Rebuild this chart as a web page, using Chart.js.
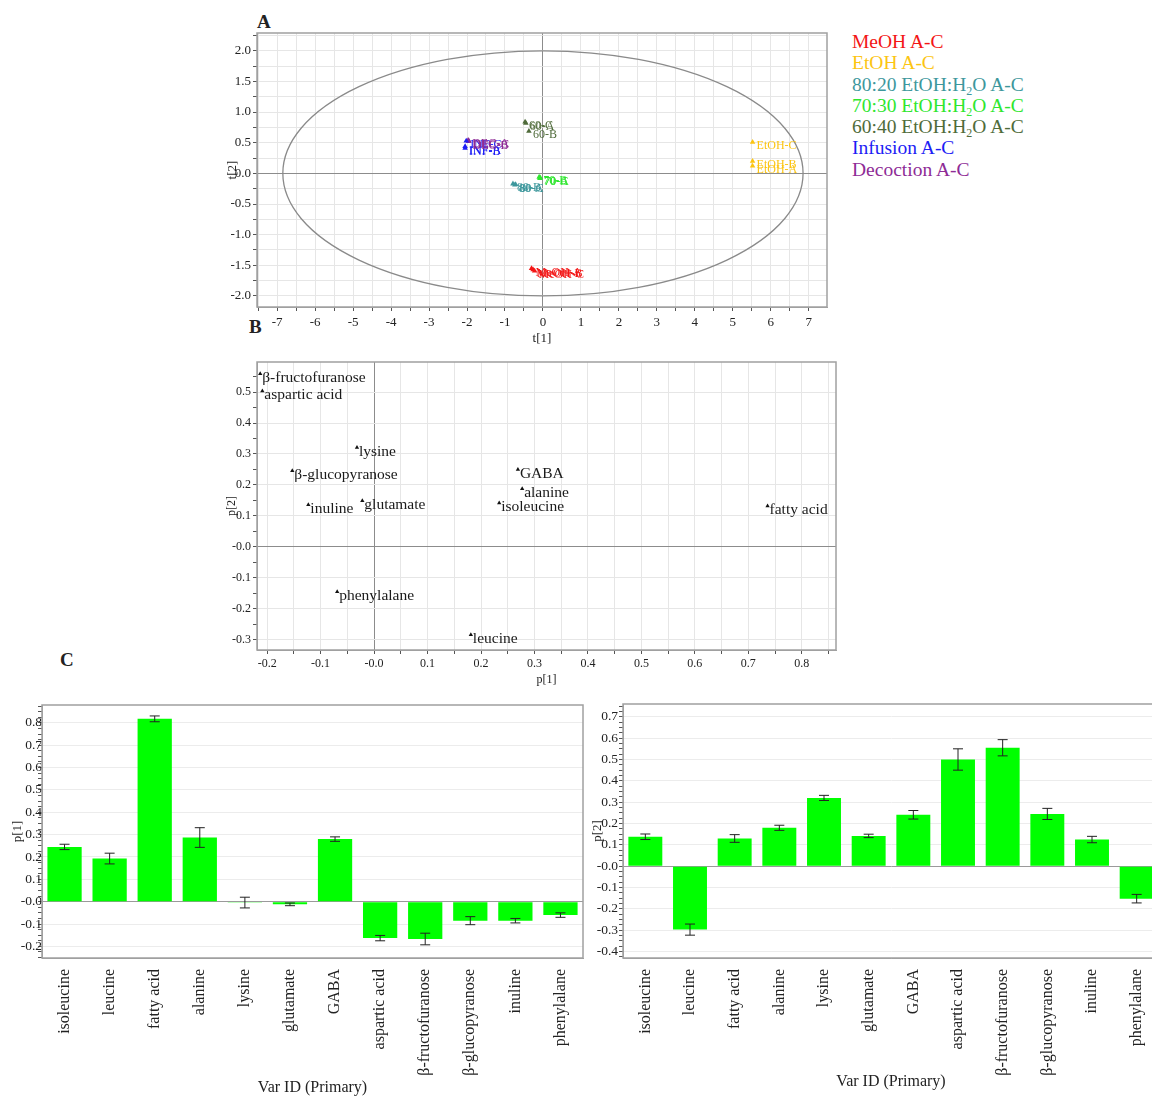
<!DOCTYPE html>
<html>
<head>
<meta charset="utf-8">
<script src="https://cdn.jsdelivr.net/npm/chart.js@4.4.1/dist/chart.umd.min.js"></script>
<style>
  html, body { margin: 0; padding: 0; background: #fff; overflow: hidden; width: 1152px; height: 1097px; }
  body { position: relative; font-family: 'Liberation Serif', 'Times New Roman', serif; color: #222; }
  canvas { position: absolute; }
  .tag { position: absolute; font-weight: bold; font-size: 19px; }
  #legend { position: absolute; left: 852px; top: 31px; font-size: 19.5px; line-height: 21.3px; }
  #legend sub { font-size: 12px; line-height: 0; vertical-align: -0.3em; }
</style>
</head>
<body>
<div class="tag" style="left:257px;top:11px">A</div>
<div class="tag" style="left:249px;top:316px">B</div>
<div class="tag" style="left:60px;top:649px">C</div>
<div id="legend"></div>

<canvas id="scores" width="626" height="330" style="left:216px;top:20px"></canvas>
<canvas id="loadings" width="636" height="340" style="left:216px;top:350px"></canvas>
<canvas id="bars1" width="600" height="407" style="left:0px;top:690px"></canvas>
<canvas id="bars2" width="600" height="407" style="left:580px;top:690px"></canvas>

<script>
// ---- A: score plot t[1] / t[2] ----
const groupNames = ['MeOH A-C', 'EtOH A-C', '80:20 EtOH:H<sub>2</sub>O A-C', '70:30 EtOH:H<sub>2</sub>O A-C',
  '60:40 EtOH:H<sub>2</sub>O A-C', 'Infusion A-C', 'Decoction A-C'];
const groupColors = ['#f31515', '#fcc512', '#3d979c', '#2ee62e', '#4f6b3a', '#1d1df5', '#8e2b96'];

const sampleIds = ['MeOH-A', 'MeOH-B', 'MeOH-C', 'EtOH-A', 'EtOH-B', 'EtOH-C',
  '80-A', '80-C', '80-B', '70-A', '70-C', '70-B', '60-A', '60-B', '60-C',
  'INF-C', 'INF-A', 'INF-B', 'DEC-B', 'DEC-A', 'DEC-C'];
const sampleGroup = [0, 0, 0, 1, 1, 1, 2, 2, 2, 3, 3, 3, 4, 4, 4, 5, 5, 5, 6, 6, 6];
const t1 = [-0.30, -0.26, -0.22, 5.52, 5.52, 5.52, -0.74, -0.72, -0.79, -0.08, -0.07, -0.10,
  -0.45, -0.37, -0.47, -2.02, -2.05, -2.05, -1.96, -1.97, -1.95];
const t2 = [-1.55, -1.57, -1.59, 0.12, 0.20, 0.51, -0.19, -0.18, -0.17, -0.08, -0.07, -0.06,
  0.82, 0.69, 0.84, 0.53, 0.44, 0.41, 0.52, 0.54, 0.53];
const ellipseRadii = [6.85, 2.0]; // Hotelling T2 ellipse, t[1] and t[2] units

// ---- B: loading plot p[1] / p[2] ----
const loadVars = ['β-fructofuranose', 'aspartic acid', 'lysine', 'β-glucopyranose', 'inuline', 'glutamate',
  'GABA', 'alanine', 'isoleucine', 'fatty acid', 'phenylalane', 'leucine'];
const loadP1 = [-0.213, -0.209, -0.032, -0.153, -0.123, -0.022, 0.269, 0.277, 0.234, 0.736, -0.069, 0.181];
const loadP2 = [0.559, 0.503, 0.321, 0.246, 0.136, 0.149, 0.250, 0.188, 0.142, 0.132, -0.145, -0.284];

// ---- C: loading columns with jack-knife intervals ----
const barVars = ['isoleucine', 'leucine', 'fatty acid', 'alanine', 'lysine', 'glutamate', 'GABA',
  'aspartic acid', 'β-fructofuranose', 'β-glucopyranose', 'inuline', 'phenylalane'];
const p1Vals = [0.245, 0.193, 0.818, 0.287, -0.004, -0.012, 0.280, -0.163, -0.167, -0.085, -0.085, -0.060];
const p1Errs = [0.012, 0.024, 0.013, 0.044, 0.024, 0.006, 0.010, 0.012, 0.026, 0.018, 0.010, 0.010];
const p2Vals = [0.138, -0.297, 0.130, 0.180, 0.320, 0.142, 0.241, 0.500, 0.555, 0.245, 0.125, -0.152];
const p2Errs = [0.013, 0.026, 0.018, 0.012, 0.012, 0.008, 0.020, 0.050, 0.038, 0.026, 0.015, 0.020];

const SERIF = "'Liberation Serif', 'Times New Roman', serif";
Chart.defaults.font.family = SERIF;
Chart.defaults.color = '#222';
Chart.defaults.animation = false;
Chart.defaults.plugins.legend.display = false;
Chart.defaults.plugins.tooltip.enabled = false;

document.getElementById('legend').innerHTML = groupNames
  .map((n, i) => `<div style="color:${groupColors[i]}">${n}</div>`).join('');

function onStep(v, s) {
  const q = v / s;
  return Math.abs(q - Math.round(q)) < 1e-6;
}
function fmt1(v) {
  return Math.abs(v) < 1e-9 ? '-0.0' : v.toFixed(1);
}
function fixWidth(w) { return s => { s.width = w; }; }
function fixHeight(h) { return s => { s.height = h; }; }

// grey frame round the plot area
const framePlugin = {
  id: 'frame',
  beforeDatasetsDraw(chart) {
    const a = chart.chartArea, ctx = chart.ctx;
    ctx.save();
    ctx.strokeStyle = '#a0a0a0';
    ctx.lineWidth = 1.5;
    ctx.strokeRect(a.left, a.top, a.right - a.left, a.bottom - a.top);
    ctx.restore();
  }
};

// text next to each point, in the dataset colour
const pointLabels = {
  id: 'pointLabels',
  afterDatasetsDraw(chart, args, opts) {
    const ctx = chart.ctx;
    ctx.save();
    ctx.font = opts.font;
    ctx.textBaseline = 'middle';
    chart.data.datasets.forEach((ds, di) => {
      ctx.fillStyle = ds.textColor || ds.borderColor;
      chart.getDatasetMeta(di).data.forEach((pt, i) => {
        ctx.fillText(ds.ids[i], pt.x + opts.dx, pt.y + opts.dy);
      });
    });
    ctx.restore();
  }
};

const ellipsePlugin = {
  id: 'ellipse',
  beforeDatasetsDraw(chart) {
    const xs = chart.scales.x, ys = chart.scales.y, ctx = chart.ctx;
    const cx = xs.getPixelForValue(0), cy = ys.getPixelForValue(0);
    const rx = xs.getPixelForValue(ellipseRadii[0]) - cx;
    const ry = cy - ys.getPixelForValue(ellipseRadii[1]);
    ctx.save();
    ctx.strokeStyle = '#8a8a8a';
    ctx.lineWidth = 1.3;
    ctx.beginPath();
    ctx.ellipse(cx, cy, rx, ry, 0, 0, Math.PI * 2);
    ctx.stroke();
    ctx.restore();
  }
};

const errorBars = {
  id: 'errorBars',
  afterDatasetsDraw(chart) {
    const ctx = chart.ctx, ys = chart.scales.y;
    ctx.save();
    ctx.strokeStyle = '#222';
    ctx.lineWidth = 1;
    chart.data.datasets.forEach((ds, di) => {
      chart.getDatasetMeta(di).data.forEach((bar, i) => {
        const v = ds.data[i], e = ds.errors[i];
        const top = ys.getPixelForValue(v + e), bot = ys.getPixelForValue(v - e);
        ctx.beginPath();
        ctx.moveTo(bar.x, top); ctx.lineTo(bar.x, bot);
        ctx.moveTo(bar.x - 5, top); ctx.lineTo(bar.x + 5, top);
        ctx.moveTo(bar.x - 5, bot); ctx.lineTo(bar.x + 5, bot);
        ctx.stroke();
      });
    });
    ctx.restore();
  }
};

// grid colour: darker line through zero, optional step filter for minor ticks
function gridColor(step, light, zero) {
  return c => {
    const v = c.tick ? c.tick.value : 0;
    if (Math.abs(v) < 1e-9) return zero;
    return onStep(v, step) ? light : 'rgba(0,0,0,0)';
  };
}

// ---- A ----
new Chart(document.getElementById('scores'), {
  type: 'scatter',
  data: {
    datasets: groupNames.map((n, g) => {
      const idx = sampleGroup.map((s, i) => s === g ? i : -1).filter(i => i >= 0);
      return {
        label: n,
        data: idx.map(i => ({ x: t1[i], y: t2[i] })),
        ids: idx.map(i => sampleIds[i]),
        backgroundColor: groupColors[g],
        borderColor: groupColors[g],
        pointStyle: 'triangle',
        pointRadius: 3.2,
        borderWidth: 0
      };
    })
  },
  options: {
    responsive: false,
    layout: { padding: { top: 13, right: 15, left: 0, bottom: 0 } },
    plugins: { pointLabels: { font: '12px ' + SERIF, dx: 4, dy: 4 } },
    scales: {
      x: {
        type: 'linear', min: -7.53, max: 7.48,
        afterFit: fixHeight(43),
        grid: { color: gridColor(0.5, '#e6e6e6', '#8c8c8c'), tickColor: '#555', tickLength: 4 },
        border: { color: '#a0a0a0' },
        ticks: {
          stepSize: 0.5, includeBounds: false, autoSkip: false, maxRotation: 0, padding: 4,
          font: { size: 13 },
          callback: v => onStep(v, 1) ? String(Math.round(v)) : ''
        },
        title: { display: true, text: 't[1]', font: { size: 13 }, padding: { top: 0, bottom: 4 } }
      },
      y: {
        min: -2.18, max: 2.29,
        afterFit: fixWidth(41),
        grid: { color: gridColor(0.25, '#e6e6e6', '#8c8c8c'), tickColor: '#555', tickLength: 4 },
        border: { color: '#a0a0a0' },
        ticks: {
          stepSize: 0.25, includeBounds: false, autoSkip: false, padding: 2,
          font: { size: 13 },
          callback: v => onStep(v, 0.5) ? v.toFixed(1) : ''
        },
        title: { display: true, text: 't[2]', font: { size: 13 }, padding: { top: 9, bottom: 0 } }
      }
    }
  },
  plugins: [framePlugin, ellipsePlugin, pointLabels]
});

// ---- B ----
new Chart(document.getElementById('loadings'), {
  type: 'scatter',
  data: {
    datasets: [{
      label: 'loadings',
      data: loadVars.map((n, i) => ({ x: loadP1[i], y: loadP2[i] })),
      ids: loadVars,
      backgroundColor: '#111',
      borderColor: '#111',
      textColor: '#1a1a1a',
      pointStyle: 'triangle',
      pointRadius: 2.5,
      borderWidth: 0
    }]
  },
  options: {
    responsive: false,
    layout: { padding: { top: 12, right: 16, left: 0, bottom: 0 } },
    plugins: { pointLabels: { font: '15.5px ' + SERIF, dx: 2, dy: 4 } },
    scales: {
      x: {
        type: 'linear', min: -0.219, max: 0.864,
        afterFit: fixHeight(40),
        grid: { color: gridColor(0.05, '#e6e6e6', '#8c8c8c'), tickColor: '#555', tickLength: 4 },
        border: { color: '#a0a0a0' },
        ticks: {
          stepSize: 0.05, includeBounds: false, autoSkip: false, maxRotation: 0, padding: 3,
          font: { size: 12 },
          callback: v => onStep(v, 0.1) ? fmt1(v) : ''
        },
        title: { display: true, text: 'p[1]', font: { size: 12 }, padding: { top: 0, bottom: 3 } }
      },
      y: {
        min: -0.333, max: 0.597,
        afterFit: fixWidth(41),
        grid: { color: gridColor(0.1, '#e6e6e6', '#8c8c8c'), tickColor: '#555', tickLength: 4 },
        border: { color: '#a0a0a0' },
        ticks: {
          stepSize: 0.05, includeBounds: false, autoSkip: false, padding: 2,
          font: { size: 12 },
          callback: v => onStep(v, 0.1) ? fmt1(v) : ''
        },
        title: { display: true, text: 'p[2]', font: { size: 12 }, padding: { top: 9, bottom: 0 } }
      }
    }
  },
  plugins: [framePlugin, pointLabels]
});

// ---- C ----
function loadingBars(id, vals, errs, yTitle, yMin, yMax, yWidth, pad, titlePad, tickPad) {
  return new Chart(document.getElementById(id), {
    type: 'bar',
    data: {
      labels: barVars,
      datasets: [{
        label: yTitle,
        data: vals,
        errors: errs,
        backgroundColor: '#00ff00',
        borderWidth: 0,
        barPercentage: 0.76,
        categoryPercentage: 1
      }]
    },
    options: {
      responsive: false,
      layout: { padding: pad },
      scales: {
        x: {
          afterFit: fixHeight(139),
          grid: { display: false },
          border: { color: '#a0a0a0' },
          ticks: { autoSkip: false, minRotation: 90, maxRotation: 90, padding: 3, font: { size: 16 } },
          title: { display: true, text: 'Var ID (Primary)', font: { size: 16 }, padding: { top: 0, bottom: titlePad } }
        },
        y: {
          min: yMin, max: yMax,
          afterFit: fixWidth(yWidth),
          grid: { color: gridColor(0.1, '#ececec', '#9a9a9a'), tickColor: '#555', tickLength: 4 },
          border: { color: '#a0a0a0' },
          ticks: {
            stepSize: 0.025, includeBounds: false, autoSkip: false, padding: tickPad,
            font: { size: 13.5 },
            callback: v => onStep(v, 0.1) ? fmt1(v) : ''
          },
          title: { display: true, text: yTitle, font: { size: 13 }, padding: { top: 10, bottom: 0 } }
        }
      }
    },
    plugins: [framePlugin, errorBars]
  });
}

loadingBars('bars1', p1Vals, p1Errs, 'p[1]', -0.252, 0.88, 42, { top: 15, right: 17, left: 0, bottom: 0 }, 0, -4);
loadingBars('bars2', p2Vals, p2Errs, 'p[2]', -0.43, 0.76, 43, { top: 14, right: 21, left: 0, bottom: 0 }, 6, 1);
</script>
</body>
</html>
